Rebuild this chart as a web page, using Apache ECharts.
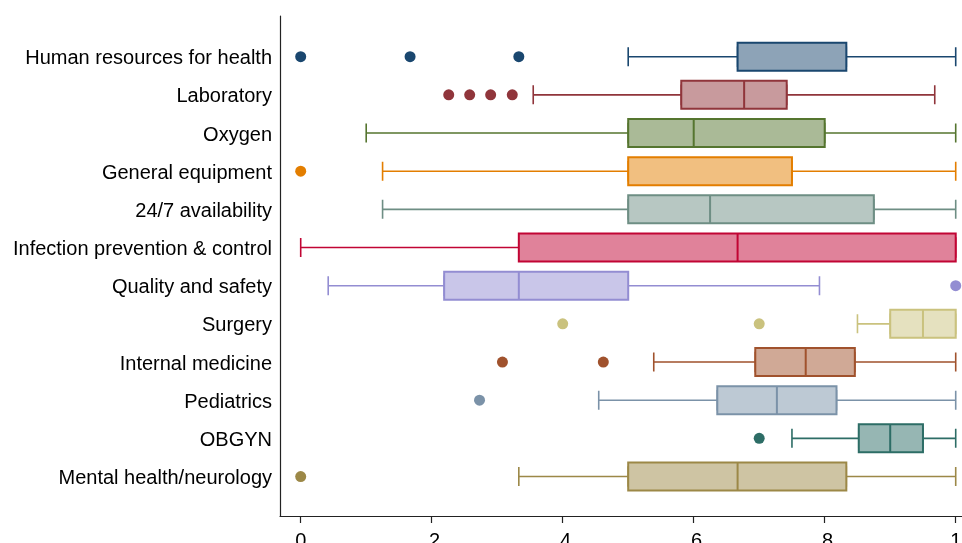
<!DOCTYPE html>
<html>
<head>
<meta charset="utf-8">
<script src="https://cdn.jsdelivr.net/npm/echarts@6/dist/echarts.min.js"></script>
<style>
html,body{margin:0;padding:0;background:#fff;}
#c{width:962px;height:543px;}
</style>
</head>
<body>
<div id="c"></div>
<script>
var categories = ['Human resources for health','Laboratory','Oxygen','General equipment','24/7 availability','Infection prevention & control','Quality and safety','Surgery','Internal medicine','Pediatrics','OBGYN','Mental health/neurology'];
var whiskerLow = [0.5, 0.355, 0.1, 0.125, 0.125, 0, 0.042, 0.85, 0.539, 0.455, 0.75, 0.333];
var q1 = [0.667, 0.581, 0.5, 0.5, 0.5, 0.333, 0.219, 0.9, 0.694, 0.636, 0.852, 0.5];
var medians = [0.667, 0.677, 0.6, 0.75, 0.625, 0.667, 0.333, 0.95, 0.771, 0.727, 0.9, 0.667];
var q3 = [0.833, 0.742, 0.8, 0.75, 0.875, 1, 0.5, 1, 0.846, 0.818, 0.95, 0.833];
var whiskerHigh = [1, 0.968, 1, 1, 1, 1, 0.792, 1, 1, 1, 1, 1];
var outliers = [[0, 0.167, 0.333], [0.226, 0.258, 0.290, 0.323], [], [0], [], [], [1], [0.4, 0.7], [0.308, 0.462], [0.273], [0.7], [0]];
var colors = ['#1a476f','#90353b','#55752f','#e37e00','#6e8e84','#c10534','#938dd2','#cac27e','#a0522d','#7b92a8','#2d6d66','#9c8847'];
var tickValues = [0, 0.2, 0.4, 0.6, 0.8, 1];
var tickLabels = ['0', '.2', '.4', '.6', '.8', '1'];

function lighten(hex, t) {
  var r = parseInt(hex.slice(1,3),16), g = parseInt(hex.slice(3,5),16), b = parseInt(hex.slice(5,7),16);
  r = Math.round(r*t + 255*(1-t)); g = Math.round(g*t + 255*(1-t)); b = Math.round(b*t + 255*(1-t));
  return 'rgb(' + r + ',' + g + ',' + b + ')';
}

var xMin = -0.0316, xMax = 1.0096;
var whiskerData = [], boxData = [], outlierData = [];
for (var i = 0; i < categories.length; i++) {
  whiskerData.push({value: [whiskerLow[i], q1[i], medians[i], q3[i], whiskerHigh[i]],
    itemStyle: {color: lighten(colors[i], 0.5), borderColor: colors[i], borderWidth: 1.6}});
  boxData.push({value: [q1[i], q1[i], medians[i], q3[i], q3[i]],
    itemStyle: {color: lighten(colors[i], 0.5), borderColor: colors[i], borderWidth: 2}});
  for (var j = 0; j < outliers[i].length; j++) {
    outlierData.push({value: [outliers[i][j], i], itemStyle: {color: colors[i], opacity: 1}});
  }
}

var chart = echarts.init(document.getElementById('c'), null, {renderer: 'canvas'});
chart.setOption({
  animation: false,
  backgroundColor: '#fff',
  grid: [
    {left: 280, right: 0, top: 37.6, height: 458, outerBoundsMode: 'none', containLabel: false},
    {left: 280, right: 0, top: 16, bottom: 27, outerBoundsMode: 'none', containLabel: false}
  ],
  xAxis: [
    {gridIndex: 0, type: 'value', min: xMin, max: xMax, show: false},
    {gridIndex: 1, type: 'value', min: xMin, max: xMax,
     axisLine: {show: true, onZero: false, lineStyle: {color: '#222', width: 1.2}},
     axisTick: {show: true, length: 7, customValues: tickValues, lineStyle: {color: '#222', width: 1.2}},
     axisLabel: {show: true, customValues: tickValues, margin: 15, fontSize: 20, color: '#000', fontFamily: 'Liberation Sans, Arial, sans-serif',
       formatter: function (v) { for (var k = 0; k < tickValues.length; k++) { if (Math.abs(tickValues[k] - v) < 1e-6) return tickLabels[k]; } return ''; }},
     splitLine: {show: false}}
  ],
  yAxis: [
    {gridIndex: 0, type: 'category', inverse: true, data: categories,
     axisLine: {show: false}, axisTick: {show: false},
     axisLabel: {show: true, margin: 8, fontSize: 20, color: '#000', fontFamily: 'Liberation Sans, Arial, sans-serif',
       formatter: function (v) { return '{a|' + v + '}'; },
       rich: {a: {fontSize: 20, color: '#000', fontFamily: 'Liberation Sans, Arial, sans-serif', padding: [4, 0, 0, 0]}}},
     splitLine: {show: false}},
    {gridIndex: 1, type: 'value', min: 0, max: 1,
     axisLine: {show: true, onZero: false, lineStyle: {color: '#222', width: 1.2}},
     axisTick: {show: false}, axisLabel: {show: false}, splitLine: {show: false}},
    {gridIndex: 0, type: 'category', inverse: true, data: categories, show: false}
  ],
  series: [
    {type: 'boxplot', xAxisIndex: 0, yAxisIndex: 0, boxWidth: [19, 19], data: whiskerData, silent: true},
    {type: 'boxplot', xAxisIndex: 0, yAxisIndex: 2, boxWidth: [28, 28], data: boxData, silent: true},
    {type: 'scatter', xAxisIndex: 0, yAxisIndex: 0, symbol: 'circle', symbolSize: 11, data: outlierData, silent: true}
  ]
});
</script>
</body>
</html>
